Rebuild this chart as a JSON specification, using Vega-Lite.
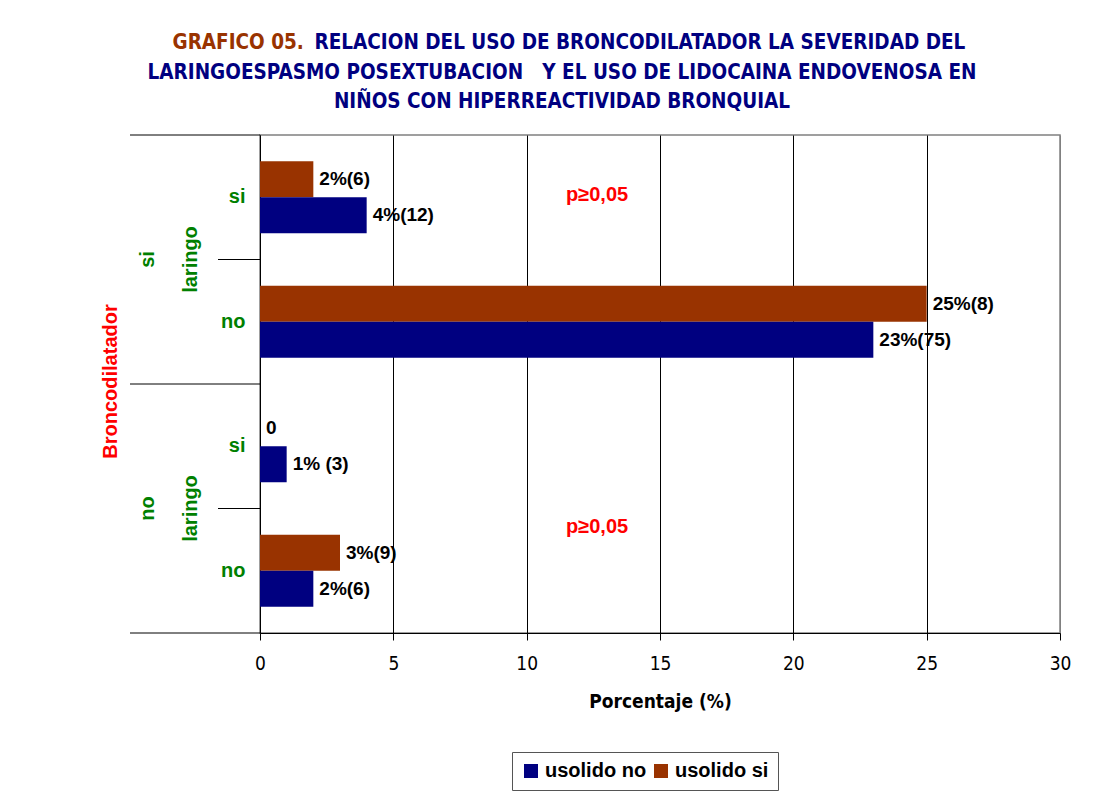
{
  "$schema": "https://vega.github.io/schema/vega-lite/v6.json",
  "width": 800,
  "height": 498,
  "autosize": {"type": "none"},
  "padding": {"left": 260, "top": 135, "right": 45, "bottom": 164},
  "background": "white",
  "title": {
    "text": ["LARINGOESPASMO POSEXTUBACION\u00a0\u00a0\u00a0Y EL USO DE LIDOCAINA ENDOVENOSA EN", "NIÑOS CON HIPERREACTIVIDAD BRONQUIAL"],
    "font": "DejaVu Sans Condensed, DejaVu Sans, sans-serif",
    "fontSize": 20.5,
    "fontWeight": "bold",
    "color": "#000080",
    "anchor": "middle",
    "frame": "group",
    "dx": -98,
    "lineHeight": 28.5,
    "offset": -80
  },
  "config": {
    "view": {"stroke": "#808080", "strokeWidth": 1.5},
    "font": "Liberation Sans"
  },
  "datasets": {
    "bars": [
      {"grp": "si|si", "serie": "usolido si", "value": 2, "label": "2%(6)"},
      {"grp": "si|si", "serie": "usolido no", "value": 4, "label": "4%(12)"},
      {"grp": "si|no", "serie": "usolido si", "value": 25, "label": "25%(8)"},
      {"grp": "si|no", "serie": "usolido no", "value": 23, "label": "23%(75)"},
      {"grp": "no|si", "serie": "usolido si", "value": 0, "label": "0"},
      {"grp": "no|si", "serie": "usolido no", "value": 1, "label": "1% (3)"},
      {"grp": "no|no", "serie": "usolido si", "value": 3, "label": "3%(9)"},
      {"grp": "no|no", "serie": "usolido no", "value": 2, "label": "2%(6)"}
    ]
  },
  "resolve": {"axis": {"x": "independent", "y": "independent"}},
  "layer": [
    {
      "data": {"name": "bars"},
      "mark": {"type": "bar"},
      "encoding": {
        "y": {
          "field": "grp", "type": "nominal",
          "scale": {"domain": ["si|si", "si|no", "no|si", "no|no"], "paddingInner": 0, "paddingOuter": 0},
          "axis": {
            "orient": "left",
            "labelExpr": "split(datum.label, '|')[1]",
            "ticks": false,
            "grid": false,
            "domainColor": "#000",
            "domainWidth": 1,
            "labelColor": "#008000",
            "labelFont": "Liberation Sans",
            "labelFontSize": 20,
            "labelFontWeight": "bold",
            "labelPadding": 15,
            "title": "Broncodilatador",
            "titleColor": "#FF0000",
            "titleFont": "Liberation Sans",
            "titleFontSize": 20,
            "titleFontWeight": "bold",
            "titleAngle": 270,
            "titleAlign": "center",
            "titleBaseline": "middle",
            "titleX": -150,
            "titleY": 246
          }
        },
        "yOffset": {
          "field": "serie", "type": "nominal",
          "scale": {"domain": ["usolido si", "usolido no"], "paddingInner": 0, "paddingOuter": 0.729}
        },
        "x": {
          "field": "value", "type": "quantitative",
          "scale": {"domain": [0, 30], "nice": false},
          "axis": {
            "orient": "bottom",
            "values": [0, 5, 10, 15, 20, 25, 30],
            "grid": true,
            "gridColor": {"condition": {"test": "datum.value === 30", "value": "#808080"}, "value": "#000000"},
            "gridWidth": 1,
            "domainColor": "#000",
            "tickColor": "#000",
            "tickSize": 7,
            "labelFont": "DejaVu Sans Condensed, DejaVu Sans, sans-serif",
            "labelFontSize": 19,
            "labelColor": "#000",
            "labelPadding": 14,
            "labelFlush": false,
            "title": "Porcentaje (%)",
            "titleFont": "DejaVu Sans Condensed, DejaVu Sans, sans-serif",
            "titleFontSize": 19,
            "titleFontWeight": "bold",
            "titleColor": "#000",
            "titlePadding": 19
          }
        },
        "color": {
          "field": "serie", "type": "nominal",
          "scale": {"domain": ["usolido no", "usolido si"], "range": ["#000080", "#993300"]},
          "legend": {
            "orient": "none",
            "legendX": 252,
            "legendY": 617,
            "direction": "horizontal",
            "title": null,
            "strokeColor": "#555555",
            "padding": 9,
            "symbolType": "square",
            "symbolSize": 196,
            "symbolStrokeWidth": 0,
            "symbolOpacity": 1,
            "labelFont": "Liberation Sans",
            "labelFontSize": 20,
            "labelFontWeight": "bold",
            "labelColor": "#000",
            "labelOffset": 4,
            "columnPadding": 4
          }
        }
      }
    },
    {
      "data": {"name": "bars"},
      "mark": {"type": "text", "align": "left", "baseline": "middle", "dx": 6, "font": "Liberation Sans", "fontSize": 19, "fontWeight": "bold", "color": "#000"},
      "encoding": {
        "y": {"field": "grp", "type": "nominal", "axis": null},
        "yOffset": {"field": "serie", "type": "nominal"},
        "x": {"field": "value", "type": "quantitative", "axis": null},
        "text": {"field": "label"}
      }
    },
    {
      "data": {"values": [{"grp": "si|si", "x": 12.64, "t": "p≥0,05"}]},
      "mark": {"type": "text", "align": "center", "baseline": "alphabetic", "dy": 4, "font": "Liberation Sans", "fontSize": 20, "fontWeight": "bold", "color": "#FF0000"},
      "encoding": {
        "y": {"field": "grp", "type": "nominal", "axis": null},
        "x": {
          "field": "x", "type": "quantitative",
          "axis": {
            "orient": "top",
            "labels": false, "ticks": false, "domain": false, "grid": false,
            "title": "GRAFICO 05.",
            "titleColor": "#993300",
            "titleFont": "DejaVu Sans Condensed, DejaVu Sans, sans-serif",
            "titleFontSize": 20.5,
            "titleFontWeight": "bold",
            "titleAngle": 0,
            "titleAlign": "left",
            "titleBaseline": "alphabetic",
            "titleX": -88,
            "titleY": -87
          }
        },
        "text": {"field": "t"}
      }
    },
    {
      "data": {"values": [{"grp": "no|no", "x": 12.64, "t": "p≥0,05"}]},
      "mark": {"type": "text", "align": "center", "baseline": "alphabetic", "dy": 24, "font": "Liberation Sans", "fontSize": 20, "fontWeight": "bold", "color": "#FF0000"},
      "encoding": {
        "y": {
          "field": "grp", "type": "nominal", "bandPosition": 0,
          "axis": {
            "orient": "right",
            "labels": false, "ticks": false, "domain": false, "grid": false,
            "title": "RELACION DEL USO DE BRONCODILATADOR LA SEVERIDAD DEL",
            "titleColor": "#000080",
            "titleFont": "DejaVu Sans Condensed, DejaVu Sans, sans-serif",
            "titleFontSize": 20.5,
            "titleFontWeight": "bold",
            "titleAngle": 0,
            "titleAlign": "left",
            "titleBaseline": "alphabetic",
            "titleX": -746,
            "titleY": -87
          }
        },
        "x": {"field": "x", "type": "quantitative", "axis": null},
        "text": {"field": "t"}
      }
    },
    {
      "data": {"values": [
        {"grp": "si|no", "x": -2.6, "t": "laringo"},
        {"grp": "no|no", "x": -2.6, "t": "laringo"},
        {"grp": "si|no", "x": -4.2, "t": "si"},
        {"grp": "no|no", "x": -4.2, "t": "no"}
      ]},
      "mark": {"type": "text", "angle": 270, "align": "center", "baseline": "middle", "font": "Liberation Sans", "fontSize": 20, "fontWeight": "bold", "color": "#008000"},
      "encoding": {
        "y": {"field": "grp", "type": "nominal", "bandPosition": 0, "axis": null},
        "x": {"field": "x", "type": "quantitative", "axis": null},
        "text": {"field": "t"}
      }
    },
    {
      "data": {"values": [
        {"grp": "si|si", "x1": -4.875, "x2": 0},
        {"grp": "si|no", "x1": -1.575, "x2": 0},
        {"grp": "no|si", "x1": -4.875, "x2": 0},
        {"grp": "no|no", "x1": -1.575, "x2": 0}
      ]},
      "mark": {"type": "rule", "color": "#000", "strokeWidth": 1},
      "encoding": {
        "y": {"field": "grp", "type": "nominal", "bandPosition": 0, "axis": null},
        "x": {"field": "x1", "type": "quantitative", "axis": null},
        "x2": {"field": "x2"}
      }
    },
    {
      "data": {"values": [{"grp": "no|no", "x1": -4.875, "x2": 0}]},
      "mark": {"type": "rule", "color": "#000", "strokeWidth": 1},
      "encoding": {
        "y": {"field": "grp", "type": "nominal", "bandPosition": 1, "axis": null},
        "x": {"field": "x1", "type": "quantitative", "axis": null},
        "x2": {"field": "x2"}
      }
    }
  ]
}
